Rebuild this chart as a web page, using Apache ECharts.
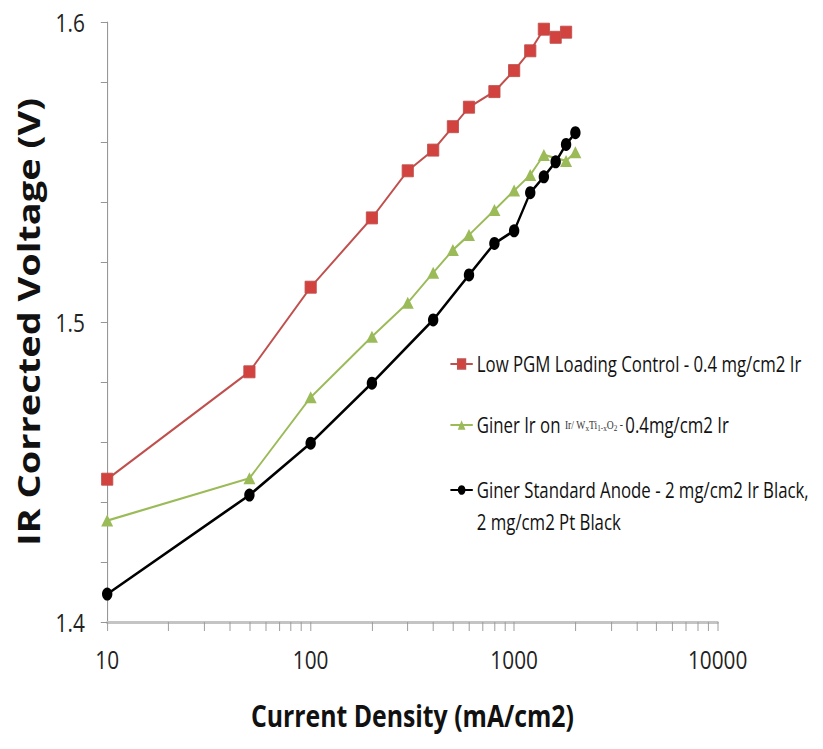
<!DOCTYPE html>
<html>
<head>
<meta charset="utf-8">
<script src="https://cdn.jsdelivr.net/npm/echarts@6/dist/echarts.min.js"></script>
<style>
html,body{margin:0;padding:0;background:#fff;overflow:hidden;}
#wrap{width:823px;height:749px;overflow:hidden;position:relative;}
/* the reference figure is horizontally condensed; render wider and condense */
#chart{width:1029px;height:749px;transform:scaleX(0.8);transform-origin:0 0;}
</style>
</head>
<body>
<div id="wrap"><div id="chart"></div></div>
<script>
// Current density (mA/cm2) and IR corrected voltage (V)
const xRed   = [10, 50, 100, 200, 300, 400, 500, 600, 800, 1000, 1200, 1400, 1600, 1800];
const yRed   = [1.4476, 1.4834, 1.5116, 1.5347, 1.5504, 1.5573, 1.5651, 1.5716, 1.5768, 1.5838, 1.5904, 1.5976, 1.5949, 1.5966];
const xGreen = [10, 50, 100, 200, 300, 400, 500, 600, 800, 1000, 1200, 1400, 1800, 2000];
const yGreen = [1.4338, 1.4479, 1.4749, 1.4951, 1.5064, 1.5164, 1.5240, 1.5290, 1.5373, 1.5438, 1.5490, 1.5557, 1.5537, 1.5566];
const xBlack = [10, 50, 100, 200, 400, 600, 800, 1000, 1200, 1400, 1600, 1800, 2000];
const yBlack = [1.4093, 1.4423, 1.4596, 1.4796, 1.5007, 1.5157, 1.5262, 1.5304, 1.5431, 1.5484, 1.5534, 1.5592, 1.5631];
const nameRed = 'Low PGM Loading Control - 0.4 mg/cm2 Ir';
const nameGreen = 'Giner Ir on Ir/WxTi1-xO2 - 0.4mg/cm2 Ir';
const nameBlack = 'Giner Standard Anode - 2 mg/cm2 Ir Black, 2 mg/cm2 Pt Black';
const xTickValues = [10,20,30,40,50,60,70,80,90,100,200,300,400,500,600,700,800,900,1000,2000,3000,4000,5000,6000,7000,8000,9000,10000];
const xLabelValues = [10, 100, 1000, 10000];
const yLabelValues = [1.4, 1.5, 1.6];

const pairs = (xs, ys) => xs.map((x, i) => [x, ys[i]]);
const sans = '"Open Sans", "Liberation Sans", sans-serif';

const chart = echarts.init(document.getElementById('chart'), null, {renderer: 'svg'});

const legendBase = {
  orient: 'vertical',
  left: 557,
  itemWidth: 28,
  itemHeight: 12,
  itemGap: 0,
  textStyle: {fontFamily: sans, fontSize: 21, color: '#111', lineHeight: 30,
    rich: {
      n: {fontFamily: sans, fontSize: 21, color: '#111', lineHeight: 32},
      f: {fontFamily: '"Liberation Serif", serif', fontSize: 12, color: '#333'},
      s: {fontFamily: '"Liberation Serif", serif', fontSize: 9, color: '#333', padding: [7, 0, 0, 0]}
    }
  }
};

chart.setOption({
  animation: false,
  backgroundColor: '#fff',
  grid: {left: 134, right: 132, top: 22, bottom: 127, containLabel: false},
  xAxis: {
    type: 'log', logBase: 10, min: 10, max: 10000,
    name: 'Current Density (mA/cm2)', nameLocation: 'middle', nameGap: 77,
    nameTextStyle: {fontFamily: sans, fontWeight: 'bold', fontSize: 31, color: '#111'},
    axisLine: {lineStyle: {color: '#c4c4c4', width: 3}},
    axisTick: {show: true, length: 9, lineStyle: {color: '#9a9a9a', width: 1.2}, customValues: xTickValues},
    minorTick: {show: false},
    axisLabel: {fontFamily: sans, fontSize: 26, color: '#222', margin: 24, customValues: xLabelValues,
      formatter: v => String(v)},
    splitLine: {show: false}
  },
  yAxis: {
    type: 'value', min: 1.4, max: 1.6, interval: 0.02,
    name: 'IR Corrected Voltage (V)', nameLocation: 'middle', nameGap: 80,
    nameTextStyle: {fontFamily: sans, fontWeight: 'bold', fontSize: 38, color: '#111'},
    axisLine: {show: true, lineStyle: {color: '#8a8a8a', width: 1.2}},
    axisTick: {show: true, length: 8, lineStyle: {color: '#8a8a8a'}},
    axisLabel: {
      fontFamily: sans, fontSize: 26, color: '#222', margin: 28, customValues: yLabelValues,
      formatter: v => v.toFixed(1)
    },
    splitLine: {show: false}
  },
  legend: [
    Object.assign({}, legendBase, {top: 344, data: [nameRed]}),
    Object.assign({}, legendBase, {top: 404, data: [nameGreen],
      formatter: () => '{n|Giner Ir on }{f|Ir/ W}{s|x}{f|Ti}{s|1-x}{f|O}{s|2}{f| - }{n|0.4mg/cm2 Ir}'}),
    Object.assign({}, legendBase, {top: 437, data: [nameBlack],
      formatter: () => '{n| }\n{n|Giner Standard Anode - 2 mg/cm2 Ir Black,}\n{n|2 mg/cm2 Pt Black}'})
  ],
  series: [
    {
      name: nameRed, type: 'line', data: pairs(xRed, yRed),
      symbol: 'rect', symbolSize: [14, 12],
      lineStyle: {color: '#C0504D', width: 2.2},
      itemStyle: {color: '#D2423F', borderColor: '#C0504D', borderWidth: 1}
    },
    {
      name: nameGreen, type: 'line', data: pairs(xGreen, yGreen),
      symbol: 'triangle', symbolSize: [15, 12],
      lineStyle: {color: '#9BBB59', width: 2.2},
      itemStyle: {color: '#9BBB59'}
    },
    {
      name: nameBlack, type: 'line', data: pairs(xBlack, yBlack),
      symbol: 'circle', symbolSize: [13, 13],
      lineStyle: {color: '#000', width: 2.8},
      itemStyle: {color: '#000'}
    }
  ]
});
</script>
</body>
</html>
